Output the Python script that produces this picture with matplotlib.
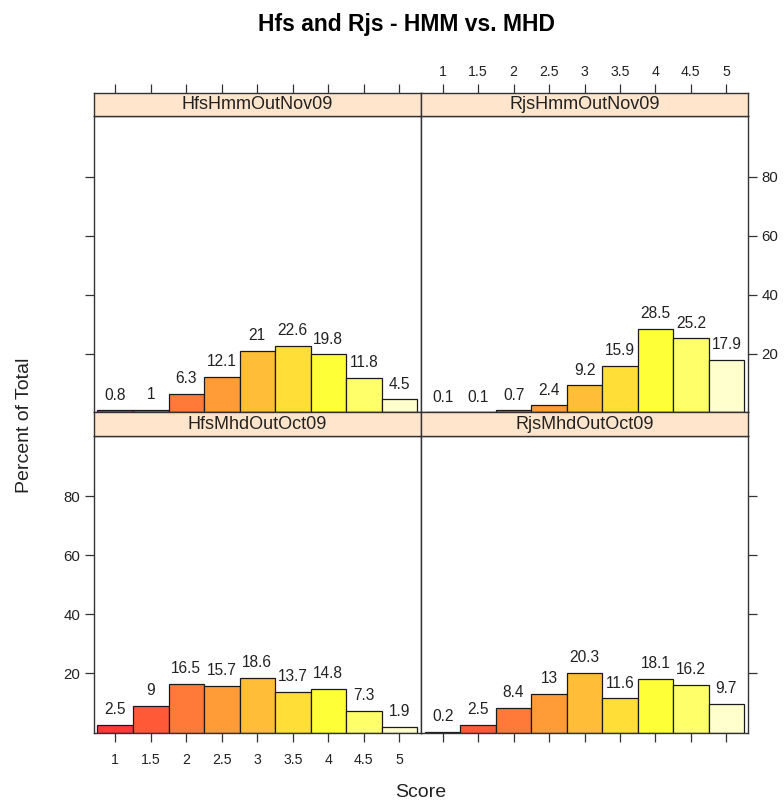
import matplotlib
matplotlib.use("Agg")
import matplotlib.pyplot as plt

plt.rcParams["font.family"] = ["Liberation Sans", "DejaVu Sans"]

# Score bins (centres) and percent-of-total per panel
scores = [1, 1.5, 2, 2.5, 3, 3.5, 4, 4.5, 5]
tick_labels = ["1", "1.5", "2", "2.5", "3", "3.5", "4", "4.5", "5"]
hfs_hmm_nov09 = [0.8, 1, 6.3, 12.1, 21, 22.6, 19.8, 11.8, 4.5]
rjs_hmm_nov09 = [0.1, 0.1, 0.7, 2.4, 9.2, 15.9, 28.5, 25.2, 17.9]
hfs_mhd_oct09 = [2.5, 9, 16.5, 15.7, 18.6, 13.7, 14.8, 7.3, 1.9]
rjs_mhd_oct09 = [0.2, 2.5, 8.4, 13, 20.3, 11.6, 18.1, 16.2, 9.7]
panel_names = ["HfsHmmOutNov09", "RjsHmmOutNov09", "HfsMhdOutOct09", "RjsMhdOutOct09"]
y_ticks = [20, 40, 60, 80]

# heat palette, softened
bar_colors = ["#FF3838", "#FF5938", "#FF7A38", "#FF9C38", "#FFBD38",
              "#FFDE38", "#FFFF38", "#FFFF6A", "#FFFFCD"]
strip_color = "#FFE5CC"
ink = "#222222"
line_col = "#333333"

W, H = 784, 805
fig = plt.figure(figsize=(W / 100, H / 100), dpi=100)


def box(x0, y0, x1, y1):
    """Pixel box (top-left origin) -> figure fraction rect."""
    return [x0 / W, 1 - y1 / H, (x1 - x0) / W, (y1 - y0) / H]


xl, xm, xr = 93.5, 421, 748
rows = [(93.3, 116.3, 412.5), (412.5, 435.7, 732.5)]
cols = [(xl, xm), (xm, xr)]
data = [[hfs_hmm_nov09, rjs_hmm_nov09], [hfs_mhd_oct09, rjs_mhd_oct09]]
xlim = (0.694, 5.305)
ylim = (0, 100.5)
tick_len = 6.5

for r, (s0, s1, p1) in enumerate(rows):
    for c, (c0, c1) in enumerate(cols):
        vals = data[r][c]
        name = panel_names[r * 2 + c]

        # panel
        ax = fig.add_axes(box(c0, s1, c1, p1))
        ax.bar(scores, vals, width=0.5, color=bar_colors,
               edgecolor="#1a1a1a", linewidth=0.9, zorder=2)
        for x, v in zip(scores, vals):
            ax.annotate(f"{v:g}", (x, v), xytext=(0, 5.5),
                        textcoords="offset points", ha="center", va="bottom",
                        fontsize=11.2, color=ink)
        ax.set_xlim(*xlim)
        ax.set_ylim(*ylim)
        for sp in ax.spines.values():
            sp.set_color(line_col)
            sp.set_linewidth(1.0)
        ax.tick_params(colors=line_col, labelcolor=ink, labelsize=10,
                       length=tick_len, width=0.9, direction="out", pad=3)
        ax.tick_params(axis="y", labelsize=10.8)
        ax.tick_params(axis="x", pad=8, labelsize=10.2)
        ax.set_yticks(y_ticks)
        ax.set_xticks(scores)
        # y axis: left column ticks on left, right column on right
        if c == 0:
            ax.tick_params(axis="y", left=True, right=False,
                           labelleft=(r == 1), labelright=False)
        else:
            ax.tick_params(axis="y", left=False, right=True,
                           labelleft=False, labelright=(r == 0))
        # x axis: only bottom row gets bottom ticks
        if r == 1:
            ax.tick_params(axis="x", bottom=True, top=False,
                           labelbottom=(c == 0), labeltop=False)
            ax.set_xticklabels(tick_labels)
        else:
            ax.tick_params(axis="x", bottom=False, top=False,
                           labelbottom=False, labeltop=False)

        # strip
        st = fig.add_axes(box(c0, s0, c1, s1))
        st.set_facecolor(strip_color)
        st.set_xlim(*xlim)
        st.set_yticks([])
        for sp in st.spines.values():
            sp.set_color(line_col)
            sp.set_linewidth(1.0)
        st.text(0.5, 0.5, name, transform=st.transAxes, ha="center",
                va="center", fontsize=13, color=ink)
        if r == 0:
            st.set_xticks(scores)
            st.set_xticklabels(tick_labels)
            st.tick_params(axis="x", bottom=False, top=True,
                           labelbottom=False, labeltop=(c == 1),
                           colors=line_col, labelcolor=ink, labelsize=10.2,
                           length=tick_len, width=0.9, direction="out", pad=4)
        else:
            st.set_xticks([])

fig.text(407 / W, 1 - 24 / H, "Hfs and Rjs - HMM vs. MHD", ha="center",
         va="center", fontsize=16.5, fontweight="bold", color="black")
fig.text(25 / W, 1 - 425 / H, "Percent of Total", rotation=90,
         ha="center", va="center", fontsize=14, color=ink)
fig.text(420.5 / W, 1 - 792 / H, "Score", ha="center", va="center",
         fontsize=14, color=ink)

fig.savefig("out.png", dpi=100, facecolor="white")
